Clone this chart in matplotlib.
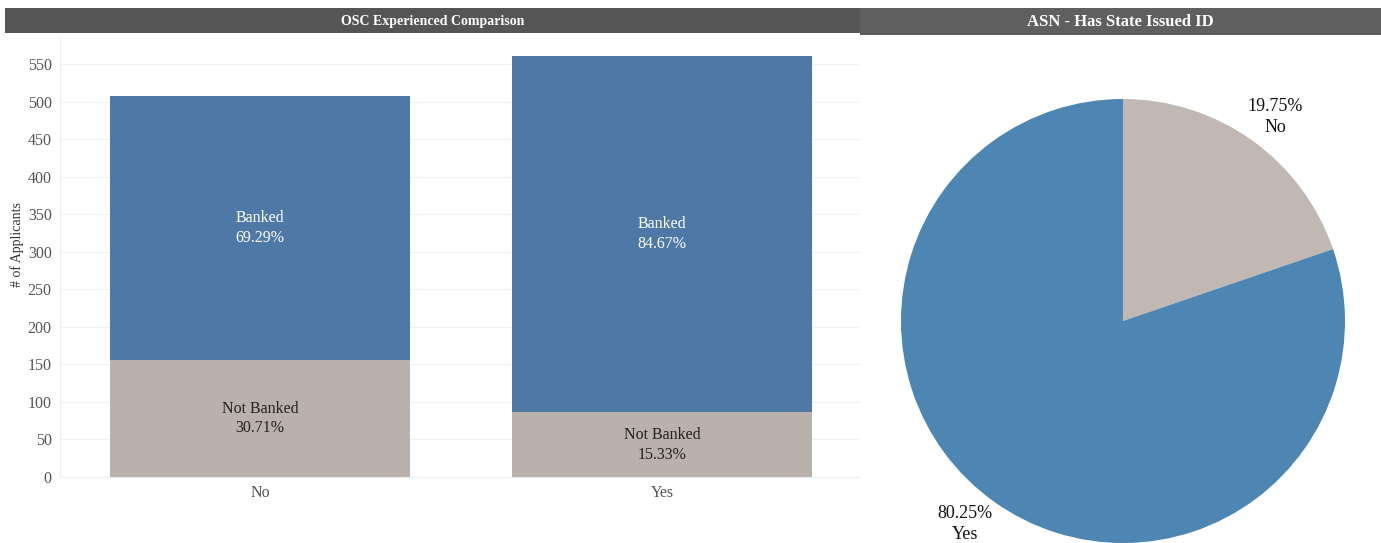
import matplotlib.pyplot as plt
import numpy as np

plt.rcParams['font.family'] = ['Liberation Serif', 'DejaVu Serif']

# bar chart data
groups = ["No", "Yes"]
not_banked = np.array([156, 86])
banked = np.array([352, 475])
seg_names = ["Not Banked", "Banked"]

# pie data
pie_labels = ["No", "Yes"]
pie_pct = [19.75, 80.25]

blue_bar = "#4e79a7"
gray_bar = "#bab0ac"
blue_pie = "#4e86b3"
gray_pie = "#c1b7b3"

fig = plt.figure(figsize=(13.81, 5.43), dpi=100)

# title bars
tb1 = fig.add_axes([5/1381, 1 - 33/543, 855/1381, 25/543])
tb1.set_facecolor("#555555")
tb1.set_xticks([]); tb1.set_yticks([])
for s in tb1.spines.values():
    s.set_visible(False)
tb1.text(0.5, 0.45, "OSC Experienced Comparison", color="white", fontsize=10,
         fontweight="bold", ha="center", va="center", transform=tb1.transAxes)

tb2 = fig.add_axes([860/1381, 1 - 35/543, 521/1381, 27/543])
tb2.set_facecolor("#5f5f5f")
tb2.set_xticks([]); tb2.set_yticks([])
for s in tb2.spines.values():
    s.set_visible(False)
tb2.text(0.5, 0.5, "ASN - Has State Issued ID", color="white", fontsize=12,
         fontweight="bold", ha="center", va="center", transform=tb2.transAxes)

# bar chart
ax = fig.add_axes([60/1381, 1 - 477/543, 800/1381, 439/543])
x = np.arange(len(groups))
ax.bar(x, not_banked, width=0.746, color=gray_bar, zorder=2)
ax.bar(x, banked, width=0.746, bottom=not_banked, color=blue_bar, zorder=2)
totals = not_banked + banked
for i in range(len(groups)):
    nb = not_banked[i] / totals[i] * 100
    b = banked[i] / totals[i] * 100
    ax.text(x[i], not_banked[i] / 2, f"{seg_names[0]}\n{nb:.2f}%", ha="center",
            va="center", fontsize=11.5, color="#222222", zorder=3, linespacing=1.3)
    ax.text(x[i], not_banked[i] + banked[i] / 2, f"{seg_names[1]}\n{b:.2f}%",
            ha="center", va="center", fontsize=11.5, color="white", zorder=3,
            linespacing=1.3)

ax.set_xlim(-0.4975, 1.4925)
ax.set_ylim(0, 585)
ax.set_yticks(np.arange(0, 551, 50))
ax.set_xticks(x)
ax.set_xticklabels(groups)
ax.tick_params(axis="both", length=0, labelsize=11.5, colors="#555555", pad=6)
ax.grid(axis="y", color="#f0f0f0", linewidth=0.8, zorder=0)
for s in ["top", "right"]:
    ax.spines[s].set_visible(False)
ax.spines["left"].set_color("#eeeeee")
ax.spines["bottom"].set_color("#eeeeee")
ax.set_ylabel("# of Applicants", fontsize=10, color="#333333")
ax.yaxis.set_label_coords(-0.045, 0.53)

# pie chart
r_px = 222
pax = fig.add_axes([(1123 - r_px)/1381, 1 - (321 + r_px)/543, 2*r_px/1381, 2*r_px/543])
pax.pie(pie_pct, colors=[gray_pie, blue_pie], startangle=90, counterclock=False,
        wedgeprops=dict(linewidth=0))
pax.set_xlim(-1, 1); pax.set_ylim(-1, 1)
pax.set_aspect("equal")
pax.axis("off")
fig.text(1275/1381, 1 - 117/543, f"{pie_pct[0]:.2f}%\n{pie_labels[0]}", ha="center",
         va="center", fontsize=13, color="#111111", linespacing=1.3)
fig.text(965/1381, 1 - 524/543, f"{pie_pct[1]:.2f}%\n{pie_labels[1]}", ha="center",
         va="center", fontsize=13, color="#111111", linespacing=1.3)

fig.savefig("out.png", dpi=100)
